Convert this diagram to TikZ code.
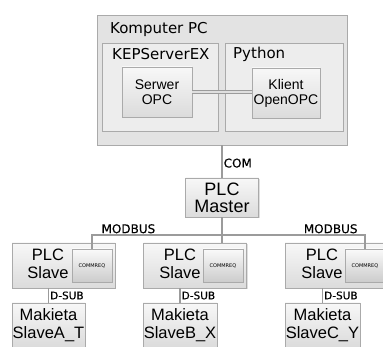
\documentclass[tikz,border=0pt]{standalone}
\usepackage{fontspec}
\setmainfont{Liberation Sans}
\newfontfamily\dejavu{DejaVu Sans}
\newfontfamily\dejavutag[FakeBold=0.3]{DejaVu Sans}
\usetikzlibrary{shadows}

\definecolor{boxline}{RGB}{170,170,170}
\definecolor{wire}{RGB}{155,155,155}

\begin{document}
\begin{tikzpicture}[x=1pt, y=-1pt,
  box/.style={draw=boxline, line width=0.8pt, rectangle, top color=gray!6, bottom color=gray!28,
    drop shadow={shadow xshift=1pt, shadow yshift=-1pt, opacity=0.25}, align=center, inner sep=0pt},
  group/.style={draw=boxline, line width=0.8pt, rectangle, fill=gray!22,
    drop shadow={shadow xshift=1pt, shadow yshift=-1pt, opacity=0.25}, inner sep=0pt},
  sub/.style={draw=boxline, line width=0.8pt, rectangle, fill=gray!14, inner sep=0pt},
  title/.style={anchor=west, inner sep=0pt, font=\dejavu\fontsize{15}{16}\selectfont},
  big/.style={font=\fontsize{16.5}{18}\selectfont},
  req/.style={box, top color=gray!4, bottom color=gray!40, minimum width=40pt, minimum height=33pt,
    font=\dejavu\fontsize{5}{6}\selectfont},
  wire/.style={draw=wire, line width=1.4pt},
  tag/.style={inner sep=1pt, font=\dejavutag\fontsize{12}{12}\selectfont}]

\useasboundingbox (0,0) rectangle (383,347);

% komputer PC
\node[group, minimum width=250pt, minimum height=130pt] (pc) at (222,80) {};
\node[title] (pctitle) at (110,29) {Komputer PC};
\node[sub, minimum width=116pt, minimum height=88pt] (kep) at (160,87) {};
\node[title] (keptitle) at (112,54) {KEPServerEX};
\node[sub, minimum width=118pt, minimum height=88pt] (py) at (284,87) {};
\node[title] (pytitle) at (233,54) {Python};
\node[box, minimum width=70pt, minimum height=50pt, font=\fontsize{14}{15}\selectfont] (serwer) at (157,92) {Serwer\\OPC};
\node[box, minimum width=68pt, minimum height=50pt, font=\fontsize{14}{15}\selectfont] (klient) at (286,93) {Klient\\OpenOPC};

\draw[draw=wire, line width=1pt, double=gray!25, double distance=1.4pt] (serwer.east) -- (serwer.east -| klient.west);

% PLC master and slaves
\node[box, font=\fontsize{18}{17}\selectfont, minimum width=73pt, minimum height=39pt] (master) at (222,197.5) {PLC\\Master};

\node[box, minimum width=103pt, minimum height=45pt] (slaveA) at (63.5,265.5) {};
\node[box, minimum width=103pt, minimum height=45pt] (slaveB) at (195,265.5) {};
\node[box, minimum width=103pt, minimum height=45pt] (slaveC) at (336.5,265.5) {};
\node[big, align=center] (textA) at (48,264) {PLC\\Slave};
\node[big, align=center] (textB) at (180,264) {PLC\\Slave};
\node[big, align=center] (textC) at (322,264) {PLC\\Slave};
\node[req] (reqA) at (92,265.5) {COMMREQ};
\node[req] (reqB) at (223,265.5) {COMMREQ};
\node[req] (reqC) at (365,265.5) {COMMREQ};

\node[box, big, minimum width=73pt, minimum height=44pt] (makA) at (48.5,325) {Makieta\\SlaveA\_T};
\node[box, big, minimum width=74pt, minimum height=44pt] (makB) at (180,325) {Makieta\\SlaveB\_X};
\node[box, big, minimum width=75pt, minimum height=44pt] (makC) at (322.5,325) {Makieta\\SlaveC\_Y};

\coordinate (bus) at (222,235);

\draw[wire] (pc.south) -- node[tag, right, pos=0.55] (com) {COM} (master.north);
\draw[wire] (master.south) -- (bus) -- (slaveB.north -| bus);
\draw[wire] (reqA.north) |- node[tag, above, pos=0.64] (modbusA) {MODBUS} (bus);
\draw[wire] (bus) -| node[tag, above, pos=0.38] (modbusC) {MODBUS} (reqC.north);

\foreach \s/\m in {slaveA/makA, slaveB/makB, slaveC/makC}
  \draw[wire] (\m.north) -- node[tag, right, font=\dejavutag\fontsize{10.5}{11}\selectfont] {D-SUB} (\m.north |- \s.south);

\end{tikzpicture}
\end{document}
